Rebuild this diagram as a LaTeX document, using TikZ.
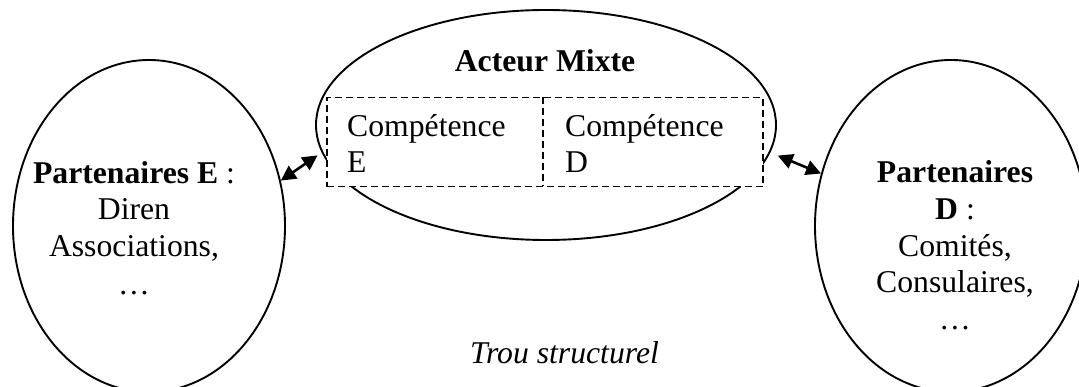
\documentclass[tikz,border=0pt]{standalone}
\usepackage{fontspec}
\setmainfont{Liberation Serif}
\usetikzlibrary{shapes.geometric,arrows.meta}
\begin{document}
\begin{tikzpicture}[x=1pt,y=-1pt,
  actor/.style={ellipse,draw,line width=1.9pt,inner sep=0pt},
  cell/.style={rectangle,draw,fill=white,line width=1.5pt,dash pattern=on 7pt off 4pt,inner sep=0pt},
  divider/.style={line width=1.5pt,dash pattern=on 7pt off 4pt},
  txt/.style={inner sep=0pt,anchor=base,font=\fontsize{31.7}{36}\selectfont},
  ltxt/.style={txt,anchor=base west},
  link/.style={line width=2.6pt,{Triangle[length=15pt,width=15pt]}-{Triangle[length=15pt,width=15pt]}}]
\useasboundingbox (0,0) rectangle (1079,387);

% the three actors
\node[actor,minimum width=272pt,minimum height=332pt] (pe) at (149,226) {};
\node[actor,minimum width=272pt,minimum height=332pt] (pd) at (951,226) {};
\node[actor,minimum width=460pt,minimum height=230pt] (am) at (546,125) {};

% split box of competences inside the mixed actor
\node[cell,anchor=north west,minimum width=436pt,minimum height=89pt] (box) at (326,97) {};
\coordinate (divtop) at (543,97);
\coordinate (divbot) at (543,186);
\draw[divider] (divtop) -- (divbot);

% labels
\node[txt] (amt) at (545,72) {\bfseries Acteur Mixte};
\node[ltxt] (ce1) at (347,137) {Compétence};
\node[ltxt] (ce2) at (347,173) {E};
\node[ltxt] (cd1) at (565,137) {Compétence};
\node[ltxt] (cd2) at (565,173) {D};

\node[txt] (pe1) at (134,184) {\textbf{Partenaires E} :};
\node[txt] (pe2) at (134,220) {Diren};
\node[txt] (pe3) at (134,257) {Associations,};
\node[txt] (pe4) at (134,295) {…};

\node[txt] (pd1) at (955,183) {\textbf{Partenaires}};
\node[txt] (pd2) at (955,220) {\textbf{D} :};
\node[txt] (pd3) at (955,257) {Comités,};
\node[txt] (pd4) at (955,293) {Consulaires,};
\node[txt] (pd5) at (955,330) {…};

\node[ltxt] (trou) at (470,363) {\itshape Trou structurel};

% exchanges between partners and the mixed actor
\draw[link,shorten >=5pt] (pe.19) -- (am.187);
\draw[link,shorten <=8pt] (am.-7) -- (pd.158);
\end{tikzpicture}
\end{document}
